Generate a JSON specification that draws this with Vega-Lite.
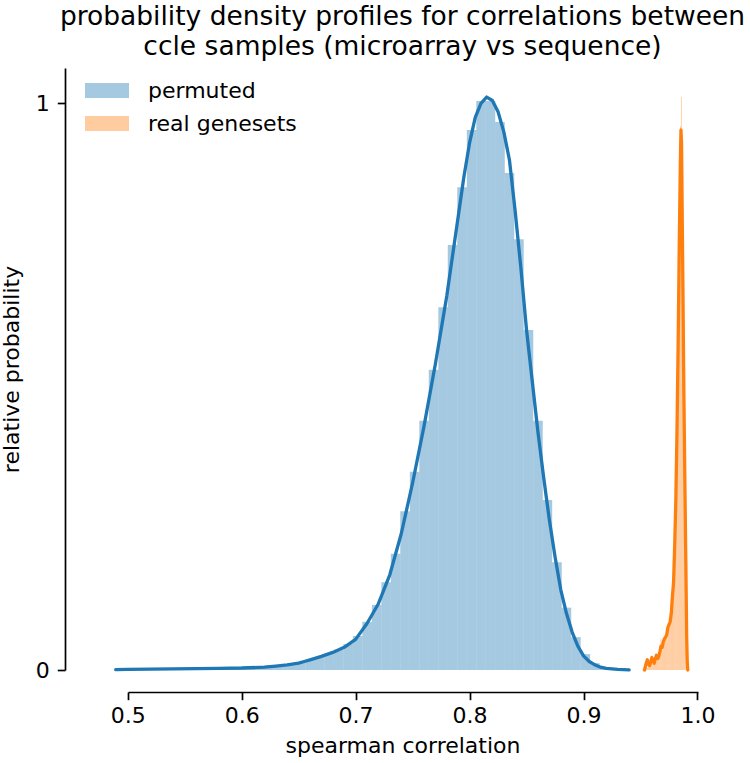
{
  "$schema": "https://vega.github.io/schema/vega-lite/v6.json",
  "width": 631,
  "height": 602,
  "autosize": {"type": "none"},
  "padding": {"left": 87, "top": 68, "right": 32, "bottom": 93},
  "background": "white",
  "config": {
    "view": {"stroke": null},
    "font": "DejaVu Sans",
    "axis": {"grid": false, "domainColor": "black", "tickColor": "black", "labelColor": "black", "titleColor": "black", "labelFont": "DejaVu Sans", "titleFont": "DejaVu Sans", "labelFontSize": 22, "titleFontSize": 22, "titleFontWeight": "normal", "tickSize": 7.7, "tickWidth": 1.7, "domainWidth": 1.7}
  },
  "title": {
    "text": ["probability density profiles for correlations between", "ccle samples (microarray vs sequence)"],
    "fontSize": 26.5, "font": "DejaVu Sans", "fontWeight": "normal", "color": "black",
    "anchor": "middle", "frame": "group", "offset": 8, "lineHeight": 30
  },
  "datasets": {
    "hist": [
      {"series": "permuted", "x0": 0.5060, "x1": 0.5143, "density": 0.001},
      {"series": "permuted", "x0": 0.5143, "x1": 0.5227, "density": 0.0015},
      {"series": "permuted", "x0": 0.5227, "x1": 0.5310, "density": 0.0015},
      {"series": "permuted", "x0": 0.5310, "x1": 0.5393, "density": 0.002},
      {"series": "permuted", "x0": 0.5393, "x1": 0.5477, "density": 0.002},
      {"series": "permuted", "x0": 0.5477, "x1": 0.5560, "density": 0.002},
      {"series": "permuted", "x0": 0.5560, "x1": 0.5643, "density": 0.0025},
      {"series": "permuted", "x0": 0.5643, "x1": 0.5726, "density": 0.003},
      {"series": "permuted", "x0": 0.5726, "x1": 0.5810, "density": 0.003},
      {"series": "permuted", "x0": 0.5810, "x1": 0.5893, "density": 0.003},
      {"series": "permuted", "x0": 0.5893, "x1": 0.5976, "density": 0.0035},
      {"series": "permuted", "x0": 0.5976, "x1": 0.6060, "density": 0.004},
      {"series": "permuted", "x0": 0.6060, "x1": 0.6143, "density": 0.004},
      {"series": "permuted", "x0": 0.6143, "x1": 0.6226, "density": 0.005},
      {"series": "permuted", "x0": 0.6226, "x1": 0.6310, "density": 0.006},
      {"series": "permuted", "x0": 0.6310, "x1": 0.6393, "density": 0.008},
      {"series": "permuted", "x0": 0.6393, "x1": 0.6476, "density": 0.010},
      {"series": "permuted", "x0": 0.6476, "x1": 0.6559, "density": 0.013},
      {"series": "permuted", "x0": 0.6559, "x1": 0.6643, "density": 0.018},
      {"series": "permuted", "x0": 0.6643, "x1": 0.6726, "density": 0.023},
      {"series": "permuted", "x0": 0.6726, "x1": 0.6809, "density": 0.029},
      {"series": "permuted", "x0": 0.6809, "x1": 0.6893, "density": 0.036},
      {"series": "permuted", "x0": 0.6893, "x1": 0.6976, "density": 0.046},
      {"series": "permuted", "x0": 0.6976, "x1": 0.7059, "density": 0.060},
      {"series": "permuted", "x0": 0.7059, "x1": 0.7143, "density": 0.085},
      {"series": "permuted", "x0": 0.7143, "x1": 0.7226, "density": 0.115},
      {"series": "permuted", "x0": 0.7226, "x1": 0.7309, "density": 0.155},
      {"series": "permuted", "x0": 0.7309, "x1": 0.7392, "density": 0.205},
      {"series": "permuted", "x0": 0.7392, "x1": 0.7476, "density": 0.28},
      {"series": "permuted", "x0": 0.7476, "x1": 0.7559, "density": 0.35},
      {"series": "permuted", "x0": 0.7559, "x1": 0.7642, "density": 0.44},
      {"series": "permuted", "x0": 0.7642, "x1": 0.7726, "density": 0.53},
      {"series": "permuted", "x0": 0.7726, "x1": 0.7809, "density": 0.64},
      {"series": "permuted", "x0": 0.7809, "x1": 0.7892, "density": 0.75},
      {"series": "permuted", "x0": 0.7892, "x1": 0.7976, "density": 0.852},
      {"series": "permuted", "x0": 0.7976, "x1": 0.8059, "density": 0.953},
      {"series": "permuted", "x0": 0.8059, "x1": 0.8142, "density": 1.004},
      {"series": "permuted", "x0": 0.8142, "x1": 0.8225, "density": 1.004},
      {"series": "permuted", "x0": 0.8225, "x1": 0.8309, "density": 0.967},
      {"series": "permuted", "x0": 0.8309, "x1": 0.8392, "density": 0.877},
      {"series": "permuted", "x0": 0.8392, "x1": 0.8475, "density": 0.76},
      {"series": "permuted", "x0": 0.8475, "x1": 0.8559, "density": 0.60},
      {"series": "permuted", "x0": 0.8559, "x1": 0.8642, "density": 0.44},
      {"series": "permuted", "x0": 0.8642, "x1": 0.8725, "density": 0.30},
      {"series": "permuted", "x0": 0.8725, "x1": 0.8809, "density": 0.19},
      {"series": "permuted", "x0": 0.8809, "x1": 0.8892, "density": 0.11},
      {"series": "permuted", "x0": 0.8892, "x1": 0.8975, "density": 0.058},
      {"series": "permuted", "x0": 0.8975, "x1": 0.9058, "density": 0.028},
      {"series": "permuted", "x0": 0.9058, "x1": 0.9142, "density": 0.012},
      {"series": "permuted", "x0": 0.9142, "x1": 0.9225, "density": 0.005},
      {"series": "real genesets", "x0": 0.95350, "x1": 0.95428, "density": 0.006},
      {"series": "real genesets", "x0": 0.95428, "x1": 0.95506, "density": 0.012},
      {"series": "real genesets", "x0": 0.95506, "x1": 0.95584, "density": 0.010},
      {"series": "real genesets", "x0": 0.95584, "x1": 0.95662, "density": 0.004},
      {"series": "real genesets", "x0": 0.95662, "x1": 0.95740, "density": 0.012},
      {"series": "real genesets", "x0": 0.95740, "x1": 0.95818, "density": 0.006},
      {"series": "real genesets", "x0": 0.95818, "x1": 0.95896, "density": 0.010},
      {"series": "real genesets", "x0": 0.95896, "x1": 0.95974, "density": 0.018},
      {"series": "real genesets", "x0": 0.95974, "x1": 0.96052, "density": 0.010},
      {"series": "real genesets", "x0": 0.96052, "x1": 0.96130, "density": 0.014},
      {"series": "real genesets", "x0": 0.96130, "x1": 0.96208, "density": 0.010},
      {"series": "real genesets", "x0": 0.96208, "x1": 0.96286, "density": 0.020},
      {"series": "real genesets", "x0": 0.96286, "x1": 0.96364, "density": 0.024},
      {"series": "real genesets", "x0": 0.96364, "x1": 0.96442, "density": 0.016},
      {"series": "real genesets", "x0": 0.96442, "x1": 0.96520, "density": 0.026},
      {"series": "real genesets", "x0": 0.96520, "x1": 0.96598, "density": 0.020},
      {"series": "real genesets", "x0": 0.96598, "x1": 0.96676, "density": 0.030},
      {"series": "real genesets", "x0": 0.96676, "x1": 0.96754, "density": 0.036},
      {"series": "real genesets", "x0": 0.96754, "x1": 0.96832, "density": 0.055},
      {"series": "real genesets", "x0": 0.96832, "x1": 0.96910, "density": 0.034},
      {"series": "real genesets", "x0": 0.96910, "x1": 0.96988, "density": 0.045},
      {"series": "real genesets", "x0": 0.96988, "x1": 0.97066, "density": 0.058},
      {"series": "real genesets", "x0": 0.97066, "x1": 0.97144, "density": 0.048},
      {"series": "real genesets", "x0": 0.97144, "x1": 0.97222, "density": 0.055},
      {"series": "real genesets", "x0": 0.97222, "x1": 0.97300, "density": 0.062},
      {"series": "real genesets", "x0": 0.97300, "x1": 0.97378, "density": 0.060},
      {"series": "real genesets", "x0": 0.97378, "x1": 0.97456, "density": 0.068},
      {"series": "real genesets", "x0": 0.97456, "x1": 0.97534, "density": 0.076},
      {"series": "real genesets", "x0": 0.97534, "x1": 0.97612, "density": 0.082},
      {"series": "real genesets", "x0": 0.97612, "x1": 0.97690, "density": 0.088},
      {"series": "real genesets", "x0": 0.97690, "x1": 0.97768, "density": 0.10},
      {"series": "real genesets", "x0": 0.97768, "x1": 0.97846, "density": 0.13},
      {"series": "real genesets", "x0": 0.97846, "x1": 0.97924, "density": 0.16},
      {"series": "real genesets", "x0": 0.97924, "x1": 0.98002, "density": 0.20},
      {"series": "real genesets", "x0": 0.98002, "x1": 0.98080, "density": 0.26},
      {"series": "real genesets", "x0": 0.98080, "x1": 0.98158, "density": 0.32},
      {"series": "real genesets", "x0": 0.98158, "x1": 0.98236, "density": 0.42},
      {"series": "real genesets", "x0": 0.98236, "x1": 0.98314, "density": 0.55},
      {"series": "real genesets", "x0": 0.98314, "x1": 0.98392, "density": 0.68},
      {"series": "real genesets", "x0": 0.98392, "x1": 0.98470, "density": 0.82},
      {"series": "real genesets", "x0": 0.98470, "x1": 0.98548, "density": 0.96},
      {"series": "real genesets", "x0": 0.98548, "x1": 0.98626, "density": 1.011},
      {"series": "real genesets", "x0": 0.98626, "x1": 0.98704, "density": 0.80},
      {"series": "real genesets", "x0": 0.98704, "x1": 0.98782, "density": 0.58},
      {"series": "real genesets", "x0": 0.98782, "x1": 0.98860, "density": 0.40},
      {"series": "real genesets", "x0": 0.98860, "x1": 0.98938, "density": 0.24},
      {"series": "real genesets", "x0": 0.98938, "x1": 0.99016, "density": 0.10},
      {"series": "real genesets", "x0": 0.99016, "x1": 0.99094, "density": 0.03},
      {"series": "real genesets", "x0": 0.99094, "x1": 0.99172, "density": 0.006},
      {"series": "real genesets", "x0": 0.99172, "x1": 0.99250, "density": 0.002}
    ],
    "kde": [
      {"series": "permuted", "x": 0.4895, "density": 0.0005},
      {"series": "permuted", "x": 0.50, "density": 0.001},
      {"series": "permuted", "x": 0.52, "density": 0.0015},
      {"series": "permuted", "x": 0.54, "density": 0.002},
      {"series": "permuted", "x": 0.56, "density": 0.0025},
      {"series": "permuted", "x": 0.58, "density": 0.003},
      {"series": "permuted", "x": 0.60, "density": 0.0035},
      {"series": "permuted", "x": 0.62, "density": 0.005},
      {"series": "permuted", "x": 0.63, "density": 0.007},
      {"series": "permuted", "x": 0.64, "density": 0.009},
      {"series": "permuted", "x": 0.65, "density": 0.012},
      {"series": "permuted", "x": 0.655, "density": 0.015},
      {"series": "permuted", "x": 0.66, "density": 0.018},
      {"series": "permuted", "x": 0.67, "density": 0.024},
      {"series": "permuted", "x": 0.68, "density": 0.031},
      {"series": "permuted", "x": 0.69, "density": 0.040},
      {"series": "permuted", "x": 0.70, "density": 0.054},
      {"series": "permuted", "x": 0.71, "density": 0.082},
      {"series": "permuted", "x": 0.72, "density": 0.117},
      {"series": "permuted", "x": 0.73, "density": 0.168},
      {"series": "permuted", "x": 0.74, "density": 0.240},
      {"series": "permuted", "x": 0.75, "density": 0.33},
      {"series": "permuted", "x": 0.76, "density": 0.43},
      {"series": "permuted", "x": 0.77, "density": 0.54},
      {"series": "permuted", "x": 0.78, "density": 0.66},
      {"series": "permuted", "x": 0.785, "density": 0.73},
      {"series": "permuted", "x": 0.79, "density": 0.80},
      {"series": "permuted", "x": 0.795, "density": 0.87},
      {"series": "permuted", "x": 0.80, "density": 0.93},
      {"series": "permuted", "x": 0.805, "density": 0.975},
      {"series": "permuted", "x": 0.81, "density": 1.0},
      {"series": "permuted", "x": 0.815, "density": 1.011},
      {"series": "permuted", "x": 0.82, "density": 1.005},
      {"series": "permuted", "x": 0.825, "density": 0.985},
      {"series": "permuted", "x": 0.83, "density": 0.95},
      {"series": "permuted", "x": 0.835, "density": 0.90},
      {"series": "permuted", "x": 0.84, "density": 0.81},
      {"series": "permuted", "x": 0.845, "density": 0.71},
      {"series": "permuted", "x": 0.85, "density": 0.60},
      {"series": "permuted", "x": 0.855, "density": 0.51},
      {"series": "permuted", "x": 0.86, "density": 0.42},
      {"series": "permuted", "x": 0.865, "density": 0.34},
      {"series": "permuted", "x": 0.87, "density": 0.265},
      {"series": "permuted", "x": 0.875, "density": 0.20},
      {"series": "permuted", "x": 0.88, "density": 0.142},
      {"series": "permuted", "x": 0.885, "density": 0.10},
      {"series": "permuted", "x": 0.89, "density": 0.067},
      {"series": "permuted", "x": 0.895, "density": 0.042},
      {"series": "permuted", "x": 0.90, "density": 0.025},
      {"series": "permuted", "x": 0.905, "density": 0.015},
      {"series": "permuted", "x": 0.91, "density": 0.009},
      {"series": "permuted", "x": 0.915, "density": 0.005},
      {"series": "permuted", "x": 0.92, "density": 0.003},
      {"series": "permuted", "x": 0.93, "density": 0.001},
      {"series": "permuted", "x": 0.94, "density": 0.0003},
      {"series": "real genesets", "x": 0.9535, "density": 0.0},
      {"series": "real genesets", "x": 0.955, "density": 0.012},
      {"series": "real genesets", "x": 0.956, "density": 0.018},
      {"series": "real genesets", "x": 0.957, "density": 0.010},
      {"series": "real genesets", "x": 0.958, "density": 0.008},
      {"series": "real genesets", "x": 0.959, "density": 0.014},
      {"series": "real genesets", "x": 0.960, "density": 0.022},
      {"series": "real genesets", "x": 0.961, "density": 0.016},
      {"series": "real genesets", "x": 0.962, "density": 0.012},
      {"series": "real genesets", "x": 0.963, "density": 0.020},
      {"series": "real genesets", "x": 0.964, "density": 0.026},
      {"series": "real genesets", "x": 0.965, "density": 0.020},
      {"series": "real genesets", "x": 0.966, "density": 0.024},
      {"series": "real genesets", "x": 0.967, "density": 0.032},
      {"series": "real genesets", "x": 0.968, "density": 0.042},
      {"series": "real genesets", "x": 0.969, "density": 0.040},
      {"series": "real genesets", "x": 0.970, "density": 0.050},
      {"series": "real genesets", "x": 0.971, "density": 0.055},
      {"series": "real genesets", "x": 0.972, "density": 0.058},
      {"series": "real genesets", "x": 0.973, "density": 0.062},
      {"series": "real genesets", "x": 0.974, "density": 0.075},
      {"series": "real genesets", "x": 0.975, "density": 0.080},
      {"series": "real genesets", "x": 0.976, "density": 0.085},
      {"series": "real genesets", "x": 0.977, "density": 0.10},
      {"series": "real genesets", "x": 0.978, "density": 0.13},
      {"series": "real genesets", "x": 0.979, "density": 0.154},
      {"series": "real genesets", "x": 0.980, "density": 0.22},
      {"series": "real genesets", "x": 0.981, "density": 0.30},
      {"series": "real genesets", "x": 0.982, "density": 0.42},
      {"series": "real genesets", "x": 0.983, "density": 0.57},
      {"series": "real genesets", "x": 0.984, "density": 0.75},
      {"series": "real genesets", "x": 0.985, "density": 0.90},
      {"series": "real genesets", "x": 0.9855, "density": 0.953},
      {"series": "real genesets", "x": 0.986, "density": 0.93},
      {"series": "real genesets", "x": 0.987, "density": 0.72},
      {"series": "real genesets", "x": 0.988, "density": 0.50},
      {"series": "real genesets", "x": 0.989, "density": 0.32},
      {"series": "real genesets", "x": 0.990, "density": 0.15},
      {"series": "real genesets", "x": 0.9905, "density": 0.06},
      {"series": "real genesets", "x": 0.991, "density": 0.015},
      {"series": "real genesets", "x": 0.9915, "density": 0.0}
    ]
  },
  "layer": [
    {
      "data": {"name": "hist"},
      "mark": {"type": "bar", "opacity": 0.4, "strokeWidth": 0},
      "encoding": {
        "x": {"field": "x0", "type": "quantitative",
          "scale": {"domain": [0.4643, 1.018], "nice": false, "zero": false},
          "axis": {"values": [0.5, 0.6, 0.7, 0.8, 0.9, 1.0], "format": ".1f", "offset": 22, "domainDash": [0, 41, 570, 2000], "labelPadding": 6, "title": "spearman correlation", "titlePadding": 9}},
        "x2": {"field": "x1"},
        "y": {"field": "density", "type": "quantitative",
          "scale": {"domain": [0, 1.0623], "nice": false},
          "axis": {"values": [0, 1], "format": "d", "offset": 22, "labelPadding": 8, "title": "relative probability", "titlePadding": 12}},
        "y2": {"datum": 0},
        "color": {"field": "series", "type": "nominal",
          "scale": {"domain": ["permuted", "real genesets"], "range": ["#1f77b4", "#ff7f0e"]},
          "legend": {"orient": "none", "legendX": 9, "legendY": 11.5, "title": null, "padding": 0,
            "symbolType": "M-2,-0.68H2V0.68H-2Z", "symbolSize": 484, "symbolOpacity": 0.4, "symbolStrokeWidth": 0,
            "labelFontSize": 22, "labelFont": "DejaVu Sans", "labelColor": "black", "labelOffset": 30, "rowPadding": 11}}
      }
    },
    {
      "data": {"name": "kde"},
      "mark": {"type": "line", "strokeWidth": 3.3, "strokeJoin": "round", "strokeCap": "round"},
      "encoding": {
        "x": {"field": "x", "type": "quantitative"},
        "y": {"field": "density", "type": "quantitative"},
        "color": {"field": "series", "type": "nominal", "legend": null},
        "detail": {"field": "series"}
      }
    }
  ]
}
